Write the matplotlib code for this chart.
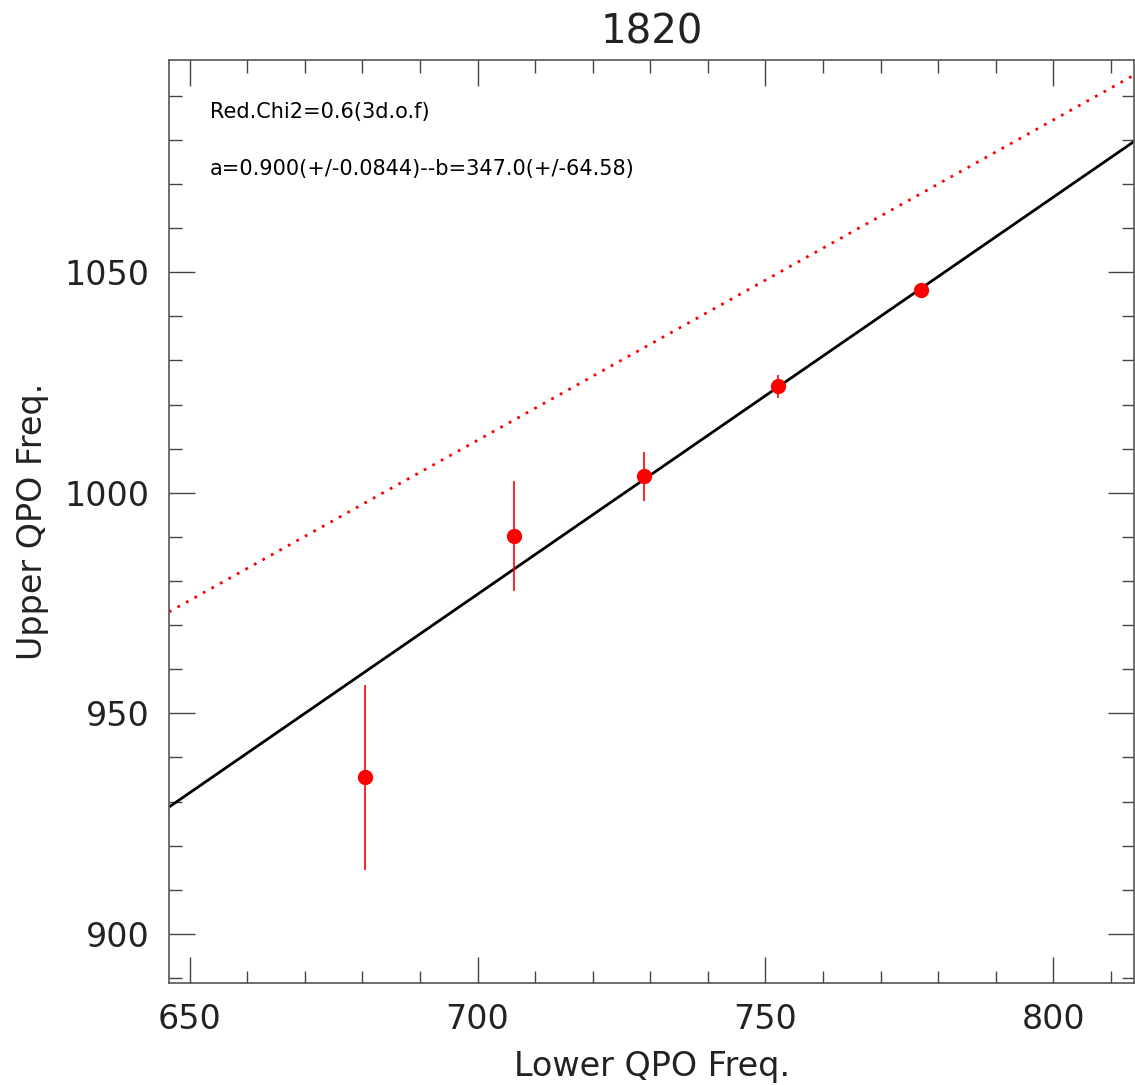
import numpy as np
import matplotlib
matplotlib.use('Agg')
import matplotlib.pyplot as plt
from matplotlib.ticker import MultipleLocator

# data
lower_freq = [680.4, 706.4, 728.9, 752.2, 777.0]
upper_freq = [935.5, 990.2, 1003.7, 1024.1, 1046.0]
upper_err = [21.0, 12.5, 5.5, 2.7, 1.5]

# best fit (black) and reference relation (red dotted)
fit_a, fit_b = 0.900, 347.0
ref_a, ref_b = 0.726, 503.7

title = '1820'
chi_text = 'Red.Chi2=0.6(3d.o.f)'
fit_text = 'a=0.900(+/-0.0844)--b=347.0(+/-64.58)'

plt.rcParams['font.family'] = ['DejaVu Sans']

fig = plt.figure(figsize=(11.35, 10.85), dpi=100)
ax = fig.add_axes([0.1489, 0.0937, 0.8506, 0.851])

xmin, xmax = 646.4, 814.1
ymin, ymax = 888.8, 1098.1
xx = np.array([xmin, xmax])

# fit lines
ax.plot(xx, ref_a * xx + ref_b, color='red', linestyle=(0, (1, 2.5)), linewidth=2)
ax.plot(xx, fit_a * xx + fit_b, color='black', linewidth=2)

# data points with error bars
ax.errorbar(lower_freq, upper_freq, yerr=upper_err, fmt='o', color='red',
            markersize=10, elinewidth=1.2, capsize=0, zorder=3)

ax.set_xlim(xmin, xmax)
ax.set_ylim(ymin, ymax)

ax.xaxis.set_major_locator(MultipleLocator(50))
ax.xaxis.set_minor_locator(MultipleLocator(10))
ax.yaxis.set_major_locator(MultipleLocator(50))
ax.yaxis.set_minor_locator(MultipleLocator(10))

ax.tick_params(which='both', direction='in', top=True, right=True,
               color='#444444', width=1)
ax.tick_params(which='major', length=19, labelsize=24, pad=14, labelcolor='#222222')
ax.tick_params(which='minor', length=9)
for s in ax.spines.values():
    s.set_color('#555555')
    s.set_linewidth(1.2)

ax.set_xlabel('Lower QPO Freq.', fontsize=24, color='#222222', labelpad=10)
ax.set_ylabel('Upper QPO Freq.', fontsize=24, color='#222222')
ax.yaxis.set_label_coords(-0.124, 0.5)
ax.set_title(title, fontsize=29, color='#222222', pad=12)

# fit annotations
ax.text(0.042, 0.944, chi_text, transform=ax.transAxes, fontsize=15, va='center')
ax.text(0.042, 0.882, fit_text, transform=ax.transAxes, fontsize=15, va='center')

fig.savefig('out.png', dpi=100)
